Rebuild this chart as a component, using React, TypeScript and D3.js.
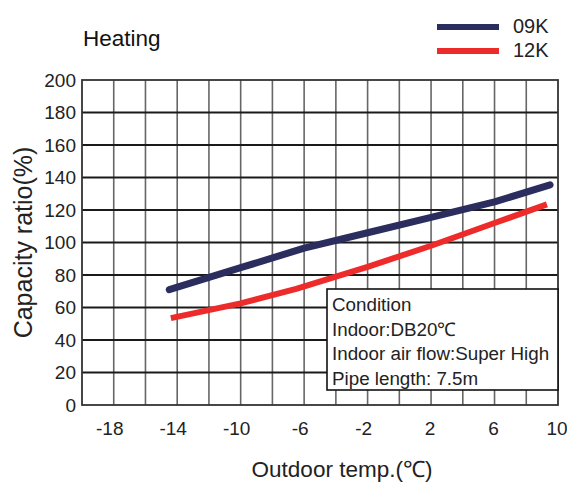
import { line, scaleLinear, range } from 'd3'

const WIDTH = 567
const HEIGHT = 482
const PLOT = { left: 82, right: 558, top: 80, bottom: 405 }
const FONT = '"Liberation Sans", Arial, Helvetica, sans-serif'

const xTicks = [-18, -14, -10, -6, -2, 2, 6, 10]
const yTicks = [0, 20, 40, 60, 80, 100, 120, 140, 160, 180, 200]

const temps09K = [-14.5, -10, -6, -2, 2, 6, 9.5]
const ratio09K = [71, 84.5, 96.5, 106, 115.5, 125, 135.5]

const temps12K = [-14.4, -10, -6.5, -2, 2, 6, 9.3]
const ratio12K = [53.5, 62.5, 71.5, 85, 98, 112, 123.5]

const conditionLines = [
  'Condition',
  'Indoor:DB20\u2103',
  'Indoor air flow:Super High',
  'Pipe length: 7.5m',
]

const NAVY = '#2b2d5e'
const RED = '#ee2b2b'

export default function App() {
  const x = scaleLinear().domain([-20, 10]).range([PLOT.left, PLOT.right])
  const y = scaleLinear().domain([0, 200]).range([PLOT.bottom, PLOT.top])

  const path = line<[number, number]>()
    .x((d) => x(d[0]))
    .y((d) => y(d[1]))

  const pts09 = temps09K.map((t, i) => [t, ratio09K[i]] as [number, number])
  const pts12 = temps12K.map((t, i) => [t, ratio12K[i]] as [number, number])

  const vGrid = range(-18, 10, 2)
  const hGrid = range(20, 200, 20)

  // condition box sits on the right edge of the plot
  const box = { x0: 327, x1: PLOT.right, y0: 289, y1: 390 }

  return (
    <svg
      width={WIDTH}
      height={HEIGHT}
      style={{ position: 'absolute', left: 0, top: 0, background: '#fff' }}
      fontFamily={FONT}
    >
      <rect x={0} y={0} width={WIDTH} height={HEIGHT} fill="#fff" />

      {vGrid.map((t) => (
        <line
          key={`v${t}`}
          x1={x(t)}
          x2={x(t)}
          y1={PLOT.top}
          y2={PLOT.bottom}
          stroke="#666"
          strokeWidth={1.6}
        />
      ))}
      {hGrid.map((v) => (
        <line
          key={`h${v}`}
          x1={PLOT.left}
          x2={PLOT.right}
          y1={y(v)}
          y2={y(v)}
          stroke="#1a1a1a"
          strokeWidth={2}
        />
      ))}
      <rect
        x={PLOT.left}
        y={PLOT.top}
        width={PLOT.right - PLOT.left}
        height={PLOT.bottom - PLOT.top}
        fill="none"
        stroke="#333"
        strokeWidth={1.8}
      />

      <path
        d={path(pts12) ?? ''}
        fill="none"
        stroke={RED}
        strokeWidth={6}
        strokeLinecap="butt"
        strokeLinejoin="round"
      />
      <path
        d={path(pts09) ?? ''}
        fill="none"
        stroke={NAVY}
        strokeWidth={7}
        strokeLinecap="round"
        strokeLinejoin="round"
      />

      <rect
        x={box.x0}
        y={box.y0}
        width={box.x1 - box.x0}
        height={box.y1 - box.y0}
        fill="#fff"
        stroke="#111"
        strokeWidth={1.6}
      />
      {conditionLines.map((txt, i) => (
        <text key={txt} x={box.x0 + 5} y={box.y0 + 22 + i * 24.5} fontSize={18.8} fill="#222">
          {txt}
        </text>
      ))}

      {yTicks.map((v) => (
        <text
          key={`yt${v}`}
          x={76}
          y={y(v)}
          dy="0.35em"
          textAnchor="end"
          fontSize={19}
          fill="#222"
        >
          {v}
        </text>
      ))}
      {xTicks.map((t) => (
        <text
          key={`xt${t}`}
          x={x(t) - (t < 0 ? 4 : 1)}
          y={435}
          textAnchor="middle"
          fontSize={19}
          fill="#222"
        >
          {t}
        </text>
      ))}

      <text x={342} y={477} textAnchor="middle" fontSize={22.5} fill="#222">
        Outdoor temp.(℃)
      </text>
      <text
        transform="translate(32, 242.5) rotate(-90)"
        textAnchor="middle"
        fontSize={25}
        fill="#222"
      >
        Capacity ratio(%)
      </text>

      <text x={83} y={46} fontSize={22.5} fill="#111">
        Heating
      </text>

      <line x1={437} x2={499} y1={27} y2={27} stroke={NAVY} strokeWidth={6} />
      <line x1={437} x2={499} y1={51} y2={51} stroke={RED} strokeWidth={6} />
      <text x={513} y={32.5} fontSize={20} fill="#222">
        09K
      </text>
      <text x={513} y={57} fontSize={20} fill="#222">
        12K
      </text>
    </svg>
  )
}
